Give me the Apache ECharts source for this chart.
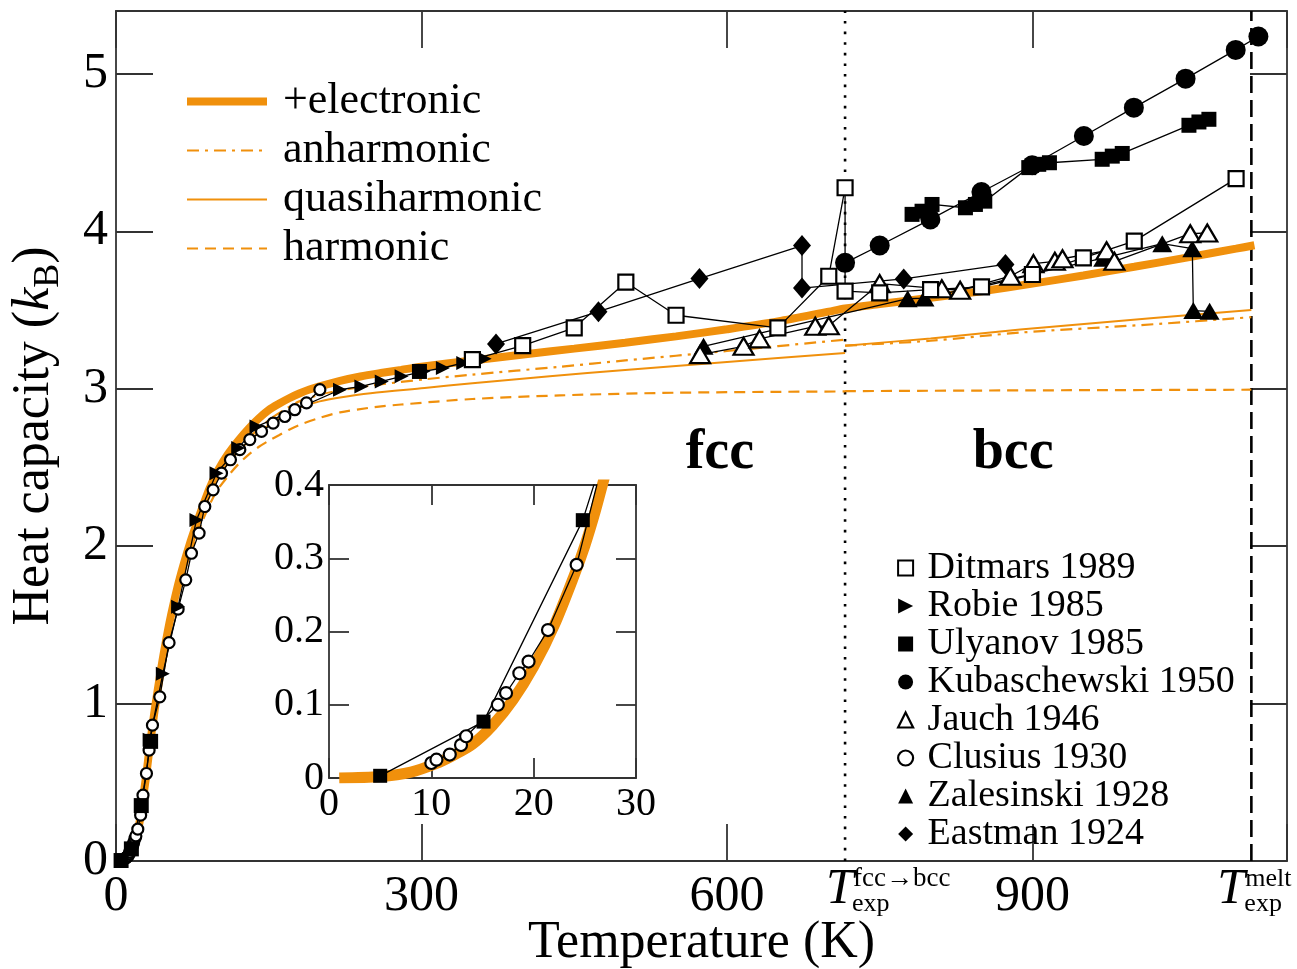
<!DOCTYPE html>
<html>
<head>
<meta charset="utf-8">
<script src="https://cdn.jsdelivr.net/npm/echarts@6/dist/echarts.min.js"></script>
<style>html,body{margin:0;padding:0;background:#fff}#c{width:1297px;height:969px}</style>
</head>
<body>
<div id="c"></div>
<script>
// ---------------- data (T in K, heat capacity in k_B) ----------------
const electronic = [[1,0],[5,0.002],[8,0.008],[10.5,0.02],[12,0.03],[14,0.046],[16,0.072],[18,0.107],[20,0.152],[22,0.208],[24,0.278],[25,0.317],[26,0.363],[27,0.415],[28,0.465],[30,0.56],[33,0.72],[38,0.96],[43,1.17],[48,1.36],[54,1.56],[60,1.73],[66,1.875],[72,2.005],[79,2.14],[85,2.25],[92,2.37],[100,2.48],[110,2.585],[120,2.67],[130,2.745],[140,2.81],[150,2.865],[160,2.905],[170,2.94],[180,2.97],[190,2.995],[200,3.015],[220,3.05],[240,3.078],[260,3.10],[280,3.12],[300,3.14],[350,3.18],[400,3.218],[450,3.255],[500,3.293],[550,3.333],[600,3.378],[650,3.428],[700,3.49],[716,3.51],[750,3.538],[800,3.578],[850,3.62],[900,3.668],[950,3.72],[1000,3.775],[1050,3.832],[1100,3.89],[1118,3.912]];
const anharmonicFcc = [[1,0],[5,0.002],[8,0.008],[10.5,0.02],[14,0.045],[18,0.105],[22,0.205],[26,0.358],[30,0.552],[33,0.712],[38,0.95],[43,1.155],[48,1.345],[54,1.54],[60,1.705],[66,1.845],[72,1.97],[79,2.105],[85,2.215],[92,2.335],[100,2.45],[110,2.535],[120,2.615],[130,2.685],[140,2.745],[150,2.80],[160,2.845],[170,2.885],[180,2.92],[200,2.962],[220,2.99],[250,3.02],[303,3.06],[350,3.09],[436,3.14],[500,3.18],[600,3.24],[716,3.312]];
const anharmonicBcc = [[716,3.274],[800,3.305],[888,3.357],[1019,3.41],[1115,3.455]];
const quasiFcc = [[1,0],[5,0.002],[8,0.008],[10.5,0.02],[14,0.045],[18,0.105],[22,0.205],[26,0.358],[30,0.552],[33,0.712],[38,0.95],[43,1.155],[48,1.345],[54,1.54],[60,1.705],[66,1.845],[72,1.97],[79,2.10],[85,2.21],[92,2.33],[100,2.44],[110,2.525],[120,2.60],[130,2.665],[140,2.72],[150,2.77],[160,2.81],[170,2.85],[180,2.88],[200,2.92],[220,2.945],[250,2.972],[303,3.005],[350,3.035],[426,3.079],[500,3.12],[600,3.17],[716,3.228]];
const quasiBcc = [[716,3.274],[800,3.32],[888,3.376],[1019,3.45],[1115,3.50]];
const harmonicFcc = [[1,0],[5,0.002],[8,0.008],[10.5,0.02],[14,0.045],[18,0.104],[22,0.203],[26,0.355],[30,0.545],[33,0.705],[38,0.94],[43,1.145],[48,1.33],[54,1.52],[60,1.68],[66,1.815],[72,1.935],[79,2.06],[85,2.16],[92,2.265],[100,2.36],[110,2.445],[120,2.52],[130,2.58],[140,2.63],[150,2.67],[160,2.705],[170,2.74],[180,2.77],[200,2.815],[220,2.85],[250,2.88],[280,2.90],[350,2.935],[436,2.958],[550,2.975],[716,2.983]];
const harmonicBcc = [[716,2.985],[900,2.99],[1115,2.994]];

const ditmars = [[350,3.185],[399.4,3.274],[450,3.387],[500.7,3.677],[550,3.467],[650,3.387],[700,3.715],[716,4.277],[716,3.62],[750,3.609],[800,3.63],[850,3.648],[900,3.726],[950,3.832],[1000,3.938],[1100,4.335]];
const robie = [[33,0.77],[46,1.19],[61,1.616],[79,2.167],[98.7,2.464],[120,2.623],[138,2.76],[220,2.994],[241,3.015],[261,3.047],[280.5,3.079],[302,3.111],[321,3.132],[341,3.164],[362,3.19]];
const ulyanovLow = [[5,0.003],[15.1,0.077],[24.8,0.352],[34,0.76]];
const ulyanovRoom = [[298,3.11]];
const ulyanovHigh = [[781.8,4.108],[791.6,4.128],[801.4,4.171],[834.2,4.15],[844,4.171],[853.2,4.192],[896.4,4.405],[906.2,4.426],[916.7,4.436],[968.5,4.458],[978.4,4.478],[988.2,4.495],[1053.7,4.674],[1063.5,4.695],[1073.3,4.712]];
const kubaschewski = [[716,3.80],[750,3.91],[799.8,4.076],[849.9,4.25],[899.7,4.42],[950.5,4.606],[999.6,4.786],[1050.4,4.97],[1099.6,5.153],[1121.9,5.238]];
const jauch = [[573.6,3.217],[616.3,3.27],[632,3.317],[686.7,3.397],[700,3.40],[750,3.668],[811,3.635],[829,3.626],[878.4,3.715],[901,3.795],[922,3.81],[929.5,3.826],[972.8,3.877],[980.5,3.81],[1055,3.985],[1071.7,3.99]];
const clusius = [[10,0.0205],[10.5,0.025],[11.8,0.032],[12.9,0.045],[13.4,0.057],[16.5,0.10],[17.3,0.116],[18.6,0.143],[19.5,0.159],[21.4,0.202],[24.2,0.291],[26.5,0.418],[29.9,0.556],[32.5,0.704],[35.8,0.863],[43,1.043],[52.1,1.387],[61,1.60],[68.5,1.786],[74.1,1.955],[81.6,2.083],[87.2,2.252],[95.4,2.358],[103.6,2.464],[112.4,2.549],[121.6,2.613],[131.4,2.677],[142.9,2.729],[154.3,2.782],[165.8,2.824],[175.6,2.867],[187.1,2.91],[200.2,2.994]];
const zalesinski = [[577,3.27],[777.5,3.572],[794,3.576],[969.5,3.83],[1027.5,3.922],[1057,3.89],[1058,3.497],[1074,3.492]];
const eastman = [[373.2,3.285],[473.8,3.49],[573,3.70],[673.7,3.91],[673.7,3.64],[773.6,3.698],[873.5,3.79]];

const T_TRANSITION = 716;   // fcc -> bcc
const T_MELT = 1115;

const legendTheory = ['+electronic','anharmonic','quasiharmonic','harmonic'];
const legendExp = ['Ditmars 1989','Robie 1985','Ulyanov 1985','Kubaschewski 1950','Jauch 1946','Clusius 1930','Zalesinski 1928','Eastman 1924'];

// ---------------- styling ----------------
const FONT = '"Liberation Serif","Times New Roman",serif';
const ORANGE = '#f0900c';
const AX = '#333';
const RIGHT_TRI = 'path://M0,0L10,5L0,10Z';
const DASHDOT = [12,6,3,6];
const DASH = [11,7];

const axLine = {show:true, onZero:false, lineStyle:{color:AX, width:1.8}};
const tickSt = {color:AX, width:1.8};

function theory(name, data, type, width, xi, yi) {
  return {type:'line', name, data, xAxisIndex:xi||0, yAxisIndex:yi||0, symbol:'none',
    smooth:0.3, lineStyle:{color:ORANGE, width, type}, itemStyle:{color:ORANGE},
    z:2, silent:true, animation:false};
}
function exp(name, data, symbol, size, open, xi, yi) {
  return {type:'line', name, data, xAxisIndex:xi||0, yAxisIndex:yi||0, symbol, symbolSize:size,
    showSymbol:true, showAllSymbol:true, lineStyle:{color:'#000', width:1.3},
    itemStyle: open ? {color:'#fff', borderColor:'#000', borderWidth:2.2} : {color:'#000', borderWidth:0},
    z:5, silent:true, animation:false};
}
const hiddenDot = {color:'rgba(0,0,0,0)', opacity:0, borderWidth:0};

const option = {
  backgroundColor:'#fff',
  animation:false,
  textStyle:{fontFamily:FONT},
  grid:[
    {left:116, top:11, width:1171, height:850, containLabel:false, outerBoundsMode:'none'},
    {left:329, top:485, width:307, height:293, show:true, backgroundColor:'#fff', borderWidth:0,
     containLabel:false, outerBoundsMode:'none'}
  ],
  xAxis:[
    {gridIndex:0, type:'value', min:0, max:1150, interval:300, position:'bottom',
     axisLine:axLine, axisTick:{inside:true, length:37, lineStyle:tickSt}, splitLine:{show:false},
     axisLabel:{fontSize:50, color:'#000', fontFamily:FONT, margin:11, formatter:v => (v % 300 === 0 ? String(v) : '')},
     name:'Temperature (K)', nameLocation:'middle', nameGap:56, nameMoveOverlap:false,
     nameTextStyle:{fontSize:52, color:'#000', fontFamily:FONT}},
    {gridIndex:0, type:'value', min:0, max:1150, interval:300, position:'top',
     axisLine:axLine, axisTick:{inside:true, length:37, lineStyle:tickSt}, splitLine:{show:false}, axisLabel:{show:false}},
    {gridIndex:1, type:'value', min:0, max:30, interval:10, position:'bottom',
     axisLine:axLine, axisTick:{inside:true, length:20, lineStyle:tickSt}, splitLine:{show:false},
     axisLabel:{fontSize:40, color:'#000', fontFamily:FONT, margin:6}},
    {gridIndex:1, type:'value', min:0, max:30, interval:10, position:'top',
     axisLine:axLine, axisTick:{inside:true, length:20, lineStyle:tickSt}, splitLine:{show:false}, axisLabel:{show:false}}
  ],
  yAxis:[
    {gridIndex:0, type:'value', min:0, max:5.4, interval:1, position:'left',
     axisLine:axLine, axisTick:{inside:true, length:37, lineStyle:tickSt}, splitLine:{show:false},
     axisLabel:{fontSize:50, color:'#000', fontFamily:FONT, margin:8,
       formatter:v => (Math.abs(v - Math.round(v)) < 1e-6 ? String(Math.round(v)) : '')},
     name:'{n|Heat capacity (}{k|k}{s|B}{n|)}', nameLocation:'middle', nameRotate:90, nameGap:49,
     nameTextStyle:{color:'#000', fontFamily:FONT, fontSize:52,
       rich:{n:{fontSize:52, fontFamily:FONT, lineHeight:66, verticalAlign:'middle'},
             k:{fontSize:52, fontFamily:FONT, fontStyle:'italic', lineHeight:66, verticalAlign:'middle'},
             s:{fontSize:36, fontFamily:FONT, lineHeight:66, verticalAlign:'bottom'}}}},
    {gridIndex:0, type:'value', min:0, max:5.4, interval:1, position:'right',
     axisLine:axLine, axisTick:{inside:true, length:37, lineStyle:tickSt}, splitLine:{show:false}, axisLabel:{show:false}},
    {gridIndex:1, type:'value', min:0, max:0.4, interval:0.1, position:'left',
     axisLine:axLine, axisTick:{inside:true, length:20, lineStyle:tickSt}, splitLine:{show:false},
     axisLabel:{fontSize:40, color:'#000', fontFamily:FONT, margin:5,
       formatter:v => (v === 0 ? '0' : (v > 0.4001 ? '' : v.toFixed(1)))}},
    {gridIndex:1, type:'value', min:0, max:0.4, interval:0.1, position:'right',
     axisLine:axLine, axisTick:{inside:true, length:20, lineStyle:tickSt}, splitLine:{show:false}, axisLabel:{show:false}}
  ],
  legend:[
    {orient:'vertical', left:183, top:77, padding:0, itemGap:0, itemWidth:80, itemHeight:14,
     selectedMode:false, formatter:n => ' ' + n,
     textStyle:{fontSize:44, color:'#000', fontFamily:FONT, lineHeight:49},
     data:[
       {name:legendTheory[0], itemStyle:hiddenDot, lineStyle:{width:8, color:ORANGE}},
       {name:legendTheory[1], itemStyle:hiddenDot, lineStyle:{width:2.2, color:ORANGE, type:DASHDOT}},
       {name:legendTheory[2], itemStyle:hiddenDot, lineStyle:{width:2.2, color:ORANGE}},
       {name:legendTheory[3], itemStyle:hiddenDot, lineStyle:{width:2.2, color:ORANGE, type:DASH}}
     ]},
    {orient:'vertical', left:897, top:549, padding:0, itemGap:0, itemWidth:15, itemHeight:15,
     selectedMode:false, formatter:n => ' ' + n,
     textStyle:{fontSize:38, color:'#000', fontFamily:FONT, lineHeight:37.4},
     data:[
       {name:legendExp[0], icon:'rect', itemStyle:{color:'#fff', borderColor:'#000', borderWidth:2}},
       {name:legendExp[1], icon:RIGHT_TRI, itemStyle:{color:'#000', borderWidth:0}},
       {name:legendExp[2], icon:'rect', itemStyle:{color:'#000', borderWidth:0}},
       {name:legendExp[3], icon:'circle', itemStyle:{color:'#000', borderWidth:0}},
       {name:legendExp[4], icon:'triangle', itemStyle:{color:'#fff', borderColor:'#000', borderWidth:2.2}},
       {name:legendExp[5], icon:'circle', itemStyle:{color:'#fff', borderColor:'#000', borderWidth:2.2}},
       {name:legendExp[6], icon:'triangle', itemStyle:{color:'#000', borderWidth:0}},
       {name:legendExp[7], icon:'diamond', itemStyle:{color:'#000', borderWidth:0}}
     ]}
  ],
  series:[
    theory('harmonic', harmonicFcc, DASH, 2.2),
    theory('harmonic', harmonicBcc, DASH, 2.2),
    theory('quasiharmonic', quasiFcc, 'solid', 2),
    theory('quasiharmonic', quasiBcc, 'solid', 2),
    theory('anharmonic', anharmonicFcc, DASHDOT, 2.2),
    theory('anharmonic', anharmonicBcc, DASHDOT, 2.2),
    theory('+electronic', electronic, 'solid', 8),
    // phase boundaries
    {type:'line', name:'transition', data:[[T_TRANSITION,0],[T_TRANSITION,5.4]], symbol:'none', silent:true,
     lineStyle:{color:'#000', width:2.6, type:[2.6,8]}, z:1},
    {type:'line', name:'melting', data:[[T_MELT,0],[T_MELT,5.4]], symbol:'none', silent:true,
     lineStyle:{color:'#000', width:2.6, type:[17,7]}, z:1},
    // experiments
    exp(legendExp[7], eastman, 'diamond', [18,21], false),
    exp(legendExp[6], zalesinski, 'triangle', [20,17], false),
    exp(legendExp[5], clusius, 'circle', 11, true),
    exp(legendExp[4], jauch, 'triangle', [20,17], true),
    exp(legendExp[3], kubaschewski, 'circle', 20, false),
    exp(legendExp[2], ulyanovLow, 'rect', 15, false),
    exp(legendExp[2], ulyanovRoom, 'rect', 15, false),
    exp(legendExp[2], ulyanovHigh, 'rect', 15, false),
    exp(legendExp[1], robie, RIGHT_TRI, 14, false),
    exp(legendExp[0], ditmars, 'rect', 15, true),
    // inset (same data on the inset axes)
    theory('+electronic', electronic, 'solid', 11, 2, 2),
    exp(legendExp[5], clusius, 'circle', 12, true, 2, 2),
    exp(legendExp[2], ulyanovLow, 'rect', 14, false, 2, 2)
  ]
};

const chart = echarts.init(document.getElementById('c'));
chart.setOption(option);

const px = v => chart.convertToPixel({xAxisIndex:0}, v);
const py = v => chart.convertToPixel({yAxisIndex:0}, v);
const tStyle = (text, size, extra) => Object.assign({text, fill:'#000', fontFamily:FONT, fontSize:size,
  textVerticalAlign:'middle', verticalAlign:'middle', textAlign:'left', align:'left'}, extra||{});

const xT = px(T_TRANSITION), xM = px(T_MELT);
chart.setOption({graphic:[
  {type:'text', x:xT - 19, y:890, z:10, style:tStyle('T', 50, {fontStyle:'italic'})},
  {type:'text', x:xT + 8, y:879, z:10, style:tStyle('fcc\u2192bcc', 27)},
  {type:'text', x:xT + 7, y:904, z:10, style:tStyle('exp', 26)},
  {type:'text', x:xM - 34, y:890, z:10, style:tStyle('T', 50, {fontStyle:'italic'})},
  {type:'text', x:xM - 6, y:879, z:10, style:tStyle('melt', 26)},
  {type:'text', x:xM - 7, y:904, z:10, style:tStyle('exp', 26)},
  {type:'text', x:px(593), y:py(2.59), z:10, style:tStyle('fcc', 56, {fontWeight:'bold', textAlign:'center', align:'center'})},
  {type:'text', x:px(881), y:py(2.59), z:10, style:tStyle('bcc', 56, {fontWeight:'bold', textAlign:'center', align:'center'})}
]});
</script>
</body>
</html>
